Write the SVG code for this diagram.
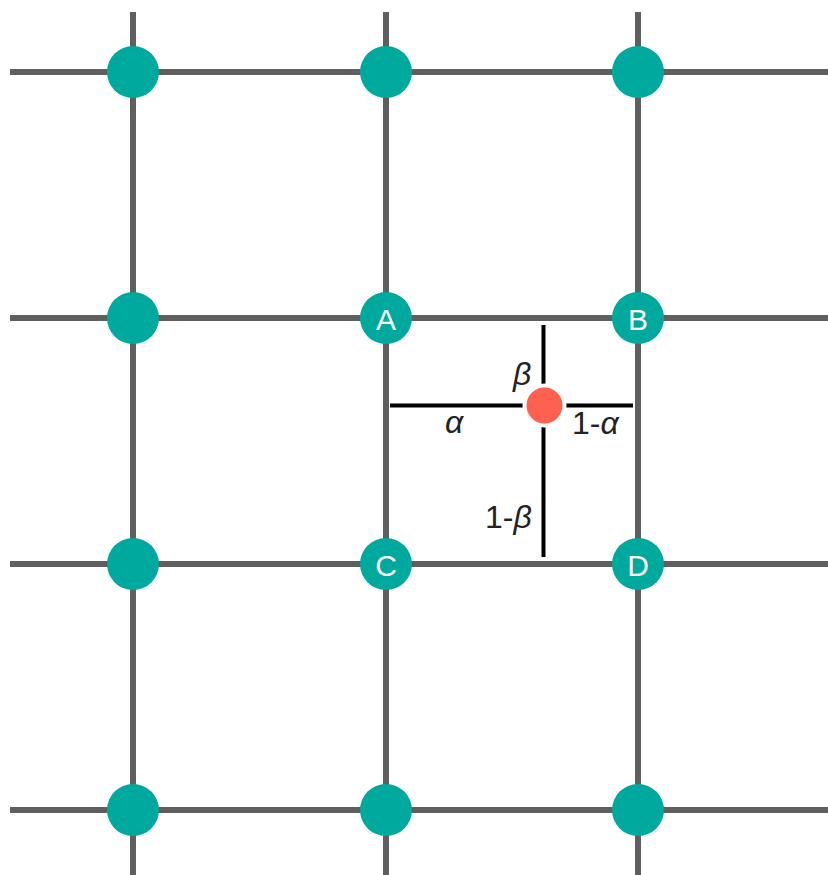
<svg xmlns="http://www.w3.org/2000/svg" width="828" height="875" viewBox="0 0 828 875">
<style>
.grid{stroke:#5f5f5f;stroke-width:6;fill:none}
.guide{stroke:#000;stroke-width:4;fill:none}
.node{fill:#00a99d}
.lbl{font-family:"Liberation Sans",Arial,sans-serif;font-size:30px;fill:#fff;text-anchor:middle}
.var{font-family:"Liberation Sans",Arial,sans-serif;font-size:32px;fill:#222}
.it{font-style:italic}
</style>
<rect width="828" height="875" fill="#fff"/>
<g id="connectors">
<line class="grid" x1="133" y1="12" x2="133" y2="875"/>
<line class="grid" x1="386" y1="12" x2="386" y2="875"/>
<line class="grid" x1="638" y1="12" x2="638" y2="875"/>
<line class="grid" x1="10" y1="72" x2="828" y2="72"/>
<line class="grid" x1="10" y1="318" x2="828" y2="318"/>
<line class="grid" x1="10" y1="564" x2="828" y2="564"/>
<line class="grid" x1="10" y1="810" x2="828" y2="810"/>
<line class="guide" x1="390" y1="405.5" x2="633" y2="405.5"/>
<line class="guide" x1="543.5" y1="325" x2="543.5" y2="557"/>
</g>
<g id="n11"><circle class="node" cx="133" cy="72" r="26"/></g>
<g id="n12"><circle class="node" cx="386" cy="72" r="26"/></g>
<g id="n13"><circle class="node" cx="638" cy="72" r="26"/></g>
<g id="n21"><circle class="node" cx="133" cy="318" r="26"/></g>
<g id="A"><circle class="node" cx="386" cy="318" r="26"/><text class="lbl" x="386" y="330">A</text></g>
<g id="B"><circle class="node" cx="638" cy="318" r="26"/><text class="lbl" x="638" y="330">B</text></g>
<g id="n31"><circle class="node" cx="133" cy="564" r="26"/></g>
<g id="C"><circle class="node" cx="386" cy="564" r="26"/><text class="lbl" x="386" y="576">C</text></g>
<g id="D"><circle class="node" cx="638" cy="564" r="26"/><text class="lbl" x="638" y="576">D</text></g>
<g id="n41"><circle class="node" cx="133" cy="810" r="26"/></g>
<g id="n42"><circle class="node" cx="386" cy="810" r="26"/></g>
<g id="n43"><circle class="node" cx="638" cy="810" r="26"/></g>
<g id="P"><circle cx="544.5" cy="405.5" r="20" fill="#ff6150" stroke="#fff" stroke-width="4"/></g>
<g id="labels">
<text class="var it" x="513" y="385">β</text>
<text class="var it" x="445" y="433">α</text>
<text class="var" x="572" y="434">1-<tspan class="it">α</tspan></text>
<text class="var" x="485" y="528">1-<tspan class="it">β</tspan></text>
</g>
</svg>
